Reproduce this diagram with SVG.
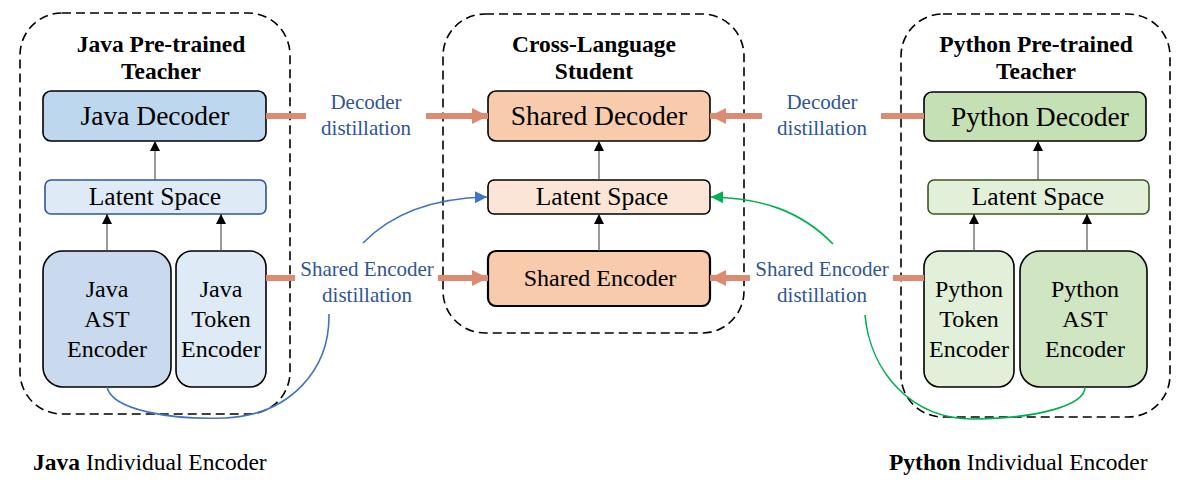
<svg xmlns="http://www.w3.org/2000/svg" width="1198" height="490" viewBox="0 0 1198 490">
<defs>
<marker id="ah" viewBox="0 0 10 10" refX="10" refY="5" markerWidth="10" markerHeight="10" markerUnits="userSpaceOnUse" orient="auto"><path d="M0,0 L10,5 L0,10 z" fill="#000"/></marker>
<marker id="oh" viewBox="0 0 10 10" refX="10" refY="5" markerWidth="16" markerHeight="16" markerUnits="userSpaceOnUse" orient="auto"><path d="M0,0 L10,5 L0,10 z" fill="#DC8B73"/></marker>
<marker id="bh" viewBox="0 0 10 10" refX="10" refY="5" markerWidth="12" markerHeight="12" markerUnits="userSpaceOnUse" orient="auto"><path d="M0,0 L10,5 L0,10 z" fill="#4472C4"/></marker>
<marker id="gh" viewBox="0 0 10 10" refX="10" refY="5" markerWidth="12" markerHeight="12" markerUnits="userSpaceOnUse" orient="auto"><path d="M0,0 L10,5 L0,10 z" fill="#00B050"/></marker>
</defs>
<style>
text{font-family:"Liberation Serif","DejaVu Serif",serif;fill:#000;text-anchor:middle}
.title{font-weight:bold;font-size:23.5px}
.big{font-size:27.5px}
.lat{font-size:25.5px}
.mid{font-size:24px}
.lbl{font-size:21px;fill:#2F5597}
.foot{font-size:23.5px;text-anchor:start}
.dash{fill:none;stroke:#000;stroke-width:1.6;stroke-dasharray:9,5}
.box{stroke:#000;stroke-width:1.6}
.ar{stroke:#555;stroke-width:1.2;fill:none;marker-end:url(#ah)}
.or{stroke:#DC8B73;stroke-width:6;fill:none}
.orA{stroke:#DC8B73;stroke-width:6;fill:none;marker-end:url(#oh)}
</style>
<rect width="1198" height="490" fill="#fff"/>

<g id="java-teacher">
<rect class="dash" x="20" y="13" width="270" height="401" rx="42"/>
<text class="title" x="161" y="52">Java Pre-trained</text>
<text class="title" x="161" y="79">Teacher</text>
</g>
<g id="java-decoder">
<rect class="box" x="43" y="91" width="223" height="50" rx="8" fill="#BDD7EE"/>
<text class="big" x="155" y="125">Java Decoder</text>
</g>
<g id="java-latent">
<rect x="45" y="180" width="221" height="34" rx="6" fill="#DEEBF7" stroke="#2F5597" stroke-width="1.6"/>
<text class="lat" x="155" y="205">Latent Space</text>
</g>
<g id="java-ast">
<rect class="box" x="43" y="251" width="128" height="136" rx="20" fill="#C9DAEE"/>
<text class="mid" x="107" y="297">Java</text>
<text class="mid" x="107" y="327">AST</text>
<text class="mid" x="107" y="357">Encoder</text>
</g>
<g id="java-token">
<rect class="box" x="176" y="251" width="90" height="136" rx="16" fill="#DEEBF7"/>
<text class="mid" x="221" y="297">Java</text>
<text class="mid" x="221" y="327">Token</text>
<text class="mid" x="221" y="357">Encoder</text>
</g>

<g id="student">
<rect class="dash" x="443" y="14" width="301" height="319" rx="42"/>
<text class="title" x="594" y="52">Cross-Language</text>
<text class="title" x="594" y="79">Student</text>
</g>
<g id="shared-decoder">
<rect class="box" x="488" y="91" width="222" height="50" rx="8" fill="#F8CBAD"/>
<text class="big" x="599" y="125">Shared Decoder</text>
</g>
<g id="shared-latent">
<rect class="box" x="488" y="180" width="222" height="34" rx="6" fill="#FBE5D6"/>
<text class="lat" x="602" y="205">Latent Space</text>
</g>
<g id="shared-encoder">
<rect x="488" y="251" width="222" height="55" rx="8" fill="#F8CBAD" stroke="#000" stroke-width="2.2"/>
<text class="mid" x="600" y="286">Shared Encoder</text>
</g>

<g id="python-teacher">
<rect class="dash" x="901" y="14" width="269" height="403" rx="42"/>
<text class="title" x="1036" y="52">Python Pre-trained</text>
<text class="title" x="1036" y="79">Teacher</text>
</g>
<g id="python-decoder">
<rect class="box" x="924" y="92" width="222" height="49" rx="8" fill="#C5E0B4"/>
<text class="big" x="1040" y="126">Python Decoder</text>
</g>
<g id="python-latent">
<rect x="928" y="180" width="221" height="34" rx="6" fill="#E2F0D9" stroke="#385723" stroke-width="1.6"/>
<text class="lat" x="1038" y="205">Latent Space</text>
</g>
<g id="python-token">
<rect class="box" x="924" y="251" width="90" height="136" rx="16" fill="#E2F0D9"/>
<text class="mid" x="969" y="297">Python</text>
<text class="mid" x="969" y="327">Token</text>
<text class="mid" x="969" y="357">Encoder</text>
</g>
<g id="python-ast">
<rect class="box" x="1020" y="251" width="127" height="136" rx="20" fill="#D0E5C2"/>
<text class="mid" x="1085" y="297">Python</text>
<text class="mid" x="1085" y="327">AST</text>
<text class="mid" x="1085" y="357">Encoder</text>
</g>

<g id="labels">
<text class="lbl" x="366" y="109">Decoder</text>
<text class="lbl" x="366" y="135">distillation</text>
<text class="lbl" x="822" y="109">Decoder</text>
<text class="lbl" x="822" y="135">distillation</text>
<text class="lbl" x="367" y="276">Shared Encoder</text>
<text class="lbl" x="367" y="302">distillation</text>
<text class="lbl" x="822" y="276">Shared Encoder</text>
<text class="lbl" x="822" y="302">distillation</text>
<text class="foot" x="33" y="470"><tspan font-weight="bold">Java</tspan> Individual Encoder</text>
<text class="foot" x="889" y="470"><tspan font-weight="bold">Python</tspan> Individual Encoder</text>
</g>

<g id="connectors">
<line class="ar" x1="155" y1="180" x2="155" y2="141"/>
<line class="ar" x1="107" y1="251" x2="107" y2="214"/>
<line class="ar" x1="221" y1="251" x2="221" y2="214"/>
<line class="ar" x1="599" y1="180" x2="599" y2="141"/>
<line class="ar" x1="599" y1="251" x2="599" y2="214"/>
<line class="ar" x1="1038" y1="180" x2="1038" y2="141"/>
<line class="ar" x1="974" y1="251" x2="974" y2="214"/>
<line class="ar" x1="1087" y1="251" x2="1087" y2="214"/>

<line class="or" x1="266" y1="116" x2="306" y2="116"/>
<line class="orA" x1="426" y1="116" x2="488" y2="116"/>
<line class="orA" x1="762" y1="116" x2="710" y2="116"/>
<line class="or" x1="881" y1="116" x2="924" y2="116"/>
<line class="or" x1="266" y1="278" x2="295" y2="278"/>
<line class="orA" x1="438" y1="278" x2="488" y2="278"/>
<line class="orA" x1="750" y1="278" x2="710" y2="278"/>
<line class="or" x1="893" y1="278" x2="924" y2="278"/>

<path d="M363,243 C395,210 440,198 487,197" fill="none" stroke="#4472C4" stroke-width="1.6" marker-end="url(#bh)"/>
<path d="M107,387 C112,410 170,420 225,418 C290,415 330,370 329,314" fill="none" stroke="#4472C4" stroke-width="1.6"/>
<path d="M833,244 C800,210 760,198 711,197" fill="none" stroke="#00B050" stroke-width="1.6" marker-end="url(#gh)"/>
<path d="M865,315 C870,370 910,420 975,419 C1040,418 1085,405 1085,387" fill="none" stroke="#00B050" stroke-width="1.6"/>
</g>
</svg>
